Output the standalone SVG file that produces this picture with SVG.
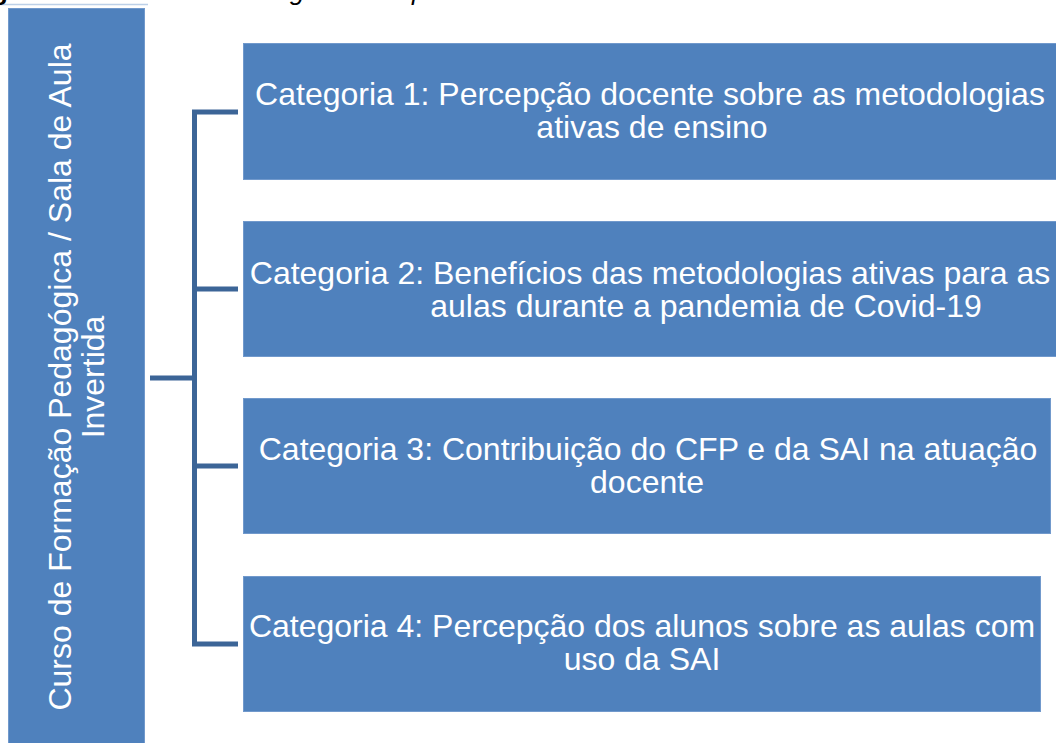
<svg xmlns="http://www.w3.org/2000/svg" width="1056" height="743" viewBox="0 0 1056 743">
  <style>
    .box { fill: #4F81BD; stroke: #7199CC; stroke-width: 1; }
    .lbl { fill: #FFFFFF; font-family: "Liberation Sans", Arial, sans-serif; font-size: 32px; text-anchor: middle; }
    .conn { fill: none; stroke: #3C6597; stroke-width: 5; stroke-linecap: butt; stroke-linejoin: miter; }
    .cap { fill: #000000; font-family: "Liberation Sans", Arial, sans-serif; font-size: 26px; font-style: italic; }
  </style>
  <rect x="0" y="0" width="1056" height="743" fill="#FFFFFF"/>
  <g id="caption">
    <line x1="0" y1="4.5" x2="148" y2="4.5" stroke="#BCD0E8" stroke-width="1.5"/>
    <text class="cap" x="-8" y="0" style="font-style:normal;font-weight:bold">g</text>
    <text class="cap" x="290" y="0">g</text>
    <text class="cap" x="412" y="0">p</text>
  </g>
  <g id="connectors">
    <path class="conn" d="M150,378 H194.5"/>
    <path class="conn" d="M238,112 H194.5 V644 H238"/>
    <path class="conn" d="M194.5,289 H238"/>
    <path class="conn" d="M194.5,466 H238"/>
  </g>
  <g id="root">
    <rect class="box" x="8.5" y="8.5" width="136" height="740"/>
    <g transform="translate(0,377) rotate(-90)">
      <text class="lbl" x="0" y="71">Curso de Formação Pedagógica / Sala de Aula</text>
      <text class="lbl" x="0" y="104">Invertida</text>
    </g>
  </g>
  <g id="cat1">
    <rect class="box" x="243.5" y="43.5" width="820" height="136"/>
    <text class="lbl" x="650" y="105">Categoria 1: Percepção docente sobre as metodologias</text>
    <text class="lbl" x="652" y="138">ativas de ensino</text>
  </g>
  <g id="cat2">
    <rect class="box" x="243.5" y="221.5" width="820" height="135"/>
    <text class="lbl" x="650" y="284">Categoria 2: Benefícios das metodologias ativas para as</text>
    <text class="lbl" x="706" y="317">aulas durante a pandemia de Covid-19</text>
  </g>
  <g id="cat3">
    <rect class="box" x="243.5" y="398.5" width="807" height="135"/>
    <text class="lbl" x="648" y="460">Categoria 3: Contribuição do CFP e da SAI na atuação</text>
    <text class="lbl" x="647" y="493">docente</text>
  </g>
  <g id="cat4">
    <rect class="box" x="243.5" y="576.5" width="797" height="135"/>
    <text class="lbl" x="642" y="637">Categoria 4: Percepção dos alunos sobre as aulas com</text>
    <text class="lbl" x="642" y="670">uso da SAI</text>
  </g>
</svg>
